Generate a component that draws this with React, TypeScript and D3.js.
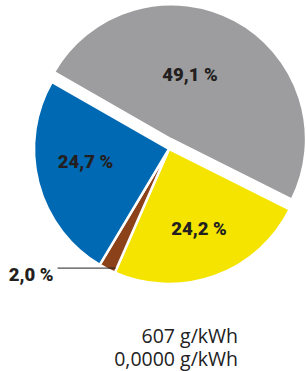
import React from 'react';
import * as d3 from 'd3';

// slice data, clockwise from the top-left edge of the grey slice
const sliceNames = ['grau', 'gelb', 'braun', 'blau'];
const shares = [49.1, 24.2, 2.0, 24.7];
const sliceColors = ['#9d9d9f', '#f4e400', '#8b4119', '#0069b3'];
const footerLines = ['607 g/kWh', '0,0000 g/kWh'];

const width = 306;
const height = 371;
const cx = 169;
const cy = 149;
const radius = 135;
const startDeg = 299.8;

// grey slice is pulled out a little
const explode: Record<string, { angle: number; dist: number }> = {
  grau: { angle: 12, dist: 10 },
};

// label placement tweaks (degrees added to mid angle, radius)
const labelTweak: Record<string, { dAngle: number; r: number }> = {
  grau: { dAngle: -12, r: 68 },
  gelb: { dAngle: -1, r: 84.5 },
  blau: { dAngle: 6, r: 84.5 },
};

const rad = (deg: number) => (deg * Math.PI) / 180;
const de = d3.formatLocale({ decimal: ',', thousands: '.', grouping: [3], currency: ['', ''] });
const fmt = de.format('.1f');

const App = () => {
  const pie = d3
    .pie<number>()
    .sort(null)
    .value(d => d)
    .startAngle(rad(startDeg))
    .endAngle(rad(startDeg + 360));

  const arcs = pie(shares);

  const arc = d3.arc<d3.PieArcDatum<number>>().innerRadius(0).outerRadius(radius);
  const edgeArc = d3.arc<d3.PieArcDatum<number>>().innerRadius(radius - 1).outerRadius(radius - 1);

  const textColor = '#231f20';
  const labelStyle = {
    fontFamily: 'Roboto, sans-serif',
    fontWeight: 900,
    fontSize: 18.5,
    fill: textColor,
  };

  return (
    <svg
      width={width}
      height={height}
      style={{ position: 'absolute', left: 0, top: 0 }}
    >
      <g transform={`translate(${cx},${cy})`}>
        {arcs.map((a, i) => {
          const name = sliceNames[i];
          const ex = explode[name];
          const dx = ex ? ex.dist * Math.sin(rad(ex.angle)) : 0;
          const dy = ex ? -ex.dist * Math.cos(rad(ex.angle)) : 0;
          return (
            <g key={name} transform={`translate(${dx},${dy})`}>
              <path d={arc(a) || ''} fill={sliceColors[i]} stroke="#fff" strokeWidth={2.5} />
            </g>
          );
        })}

        {arcs.map((a, i) => {
          const name = sliceNames[i];
          const tw = labelTweak[name];
          if (!tw) return null;
          const ex = explode[name];
          const dx = ex ? ex.dist * Math.sin(rad(ex.angle)) : 0;
          const dy = ex ? -ex.dist * Math.cos(rad(ex.angle)) : 0;
          const mid = (a.startAngle + a.endAngle) / 2 + rad(tw.dAngle);
          const x = dx + tw.r * Math.sin(mid);
          const y = dy - tw.r * Math.cos(mid);
          return (
            <text key={'l' + name} x={x} y={y} dy="0.36em" textAnchor="middle" style={labelStyle}>
              {fmt(shares[i]) + ' %'}
            </text>
          );
        })}

        {/* small slice: label outside with a leader line */}
        {arcs.map((a, i) => {
          const name = sliceNames[i];
          if (labelTweak[name]) return null;
          const [px, py] = edgeArc.centroid(a);
          return (
            <g key={'o' + name}>
              <line x1={px + 8} y1={py} x2={px - 50} y2={py} stroke={textColor} strokeWidth={1} />
              <text x={px - 54} y={py + 13} textAnchor="end" style={labelStyle}>
                {fmt(shares[i]) + ' %'}
              </text>
            </g>
          );
        })}
      </g>

      {footerLines.map((t, i) => (
        <text
          key={t}
          x={238}
          y={343 + i * 22.5}
          textAnchor="end"
          fontFamily="'Open Sans', 'Noto Sans', sans-serif"
          fontSize={19.5}
          fill="#222"
        >
          {t}
        </text>
      ))}
    </svg>
  );
};

export default App;
